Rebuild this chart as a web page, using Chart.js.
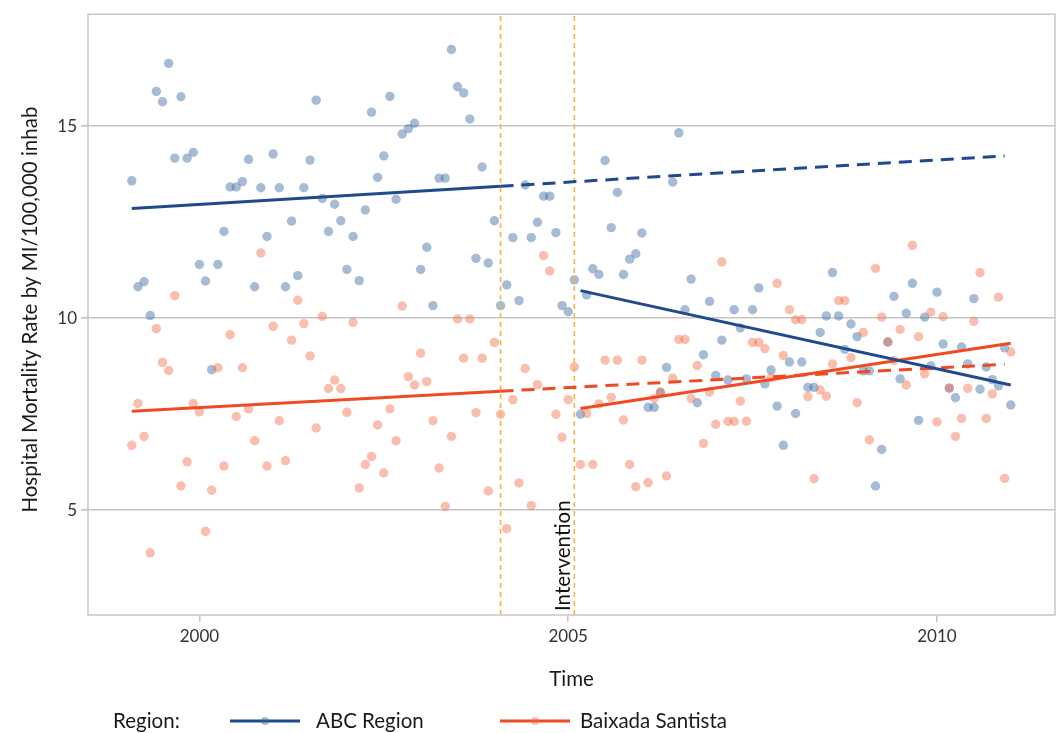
<!DOCTYPE html>
<html><head><meta charset="utf-8">
<script src="https://cdn.jsdelivr.net/npm/chart.js@4/dist/chart.umd.min.js"></script>
<style>html,body{margin:0;padding:0;background:#fff}#wrap{width:1063px;height:733px}</style>
</head><body><div id="wrap"><canvas id="c" width="1063" height="733"></canvas></div>
<script>
// ---- data ----
const months = [
 '1999-02','1999-03','1999-04','1999-05','1999-06','1999-07','1999-08','1999-09','1999-10','1999-11','1999-12',
 '2000-01','2000-02','2000-03','2000-04','2000-05','2000-06','2000-07','2000-08','2000-09','2000-10','2000-11','2000-12',
 '2001-01','2001-02','2001-03','2001-04','2001-05','2001-06','2001-07','2001-08','2001-09','2001-10','2001-11','2001-12',
 '2002-01','2002-02','2002-03','2002-04','2002-05','2002-06','2002-07','2002-08','2002-09','2002-10','2002-11','2002-12',
 '2003-01','2003-02','2003-03','2003-04','2003-05','2003-06','2003-07','2003-08','2003-09','2003-10','2003-11','2003-12',
 '2004-01','2004-02','2004-03','2004-04','2004-05','2004-06','2004-07','2004-08','2004-09','2004-10','2004-11','2004-12',
 '2005-01','2005-02','2005-03','2005-04','2005-05','2005-06','2005-07','2005-08','2005-09','2005-10','2005-11','2005-12',
 '2006-01','2006-02','2006-03','2006-04','2006-05','2006-06','2006-07','2006-08','2006-09','2006-10','2006-11','2006-12',
 '2007-01','2007-02','2007-03','2007-04','2007-05','2007-06','2007-07','2007-08','2007-09','2007-10','2007-11','2007-12',
 '2008-01','2008-02','2008-03','2008-04','2008-05','2008-06','2008-07','2008-08','2008-09','2008-10','2008-11','2008-12',
 '2009-01','2009-02','2009-03','2009-04','2009-05','2009-06','2009-07','2009-08','2009-09','2009-10','2009-11','2009-12',
 '2010-01','2010-02','2010-03','2010-04','2010-05','2010-06','2010-07','2010-08','2010-09','2010-10','2010-11','2010-12',
 '2011-01'
];
const abcRate = [
 13.58,10.82,10.95,10.07,15.91,15.64,16.64,14.17,15.77,14.17,14.32,
 11.40,10.97,8.66,11.40,12.26,13.42,13.42,13.56,14.14,10.82,13.40,12.13,
 14.28,13.40,10.82,12.53,11.11,13.40,14.12,15.68,13.12,12.26,12.97,12.54,
 11.27,12.13,10.98,12.82,15.37,13.67,14.23,15.78,13.10,14.80,14.94,15.08,
 11.27,11.85,10.33,13.65,13.65,17.00,16.03,15.87,15.19,11.56,13.94,11.44,
 12.54,10.33,10.87,12.10,10.46,13.47,12.10,12.50,13.18,13.18,12.23,10.33,
 10.17,11.00,7.50,10.61,11.29,11.14,14.11,12.36,13.28,11.14,11.54,11.68,
 12.22,7.68,7.68,8.06,8.72,13.55,14.83,10.22,11.02,7.80,9.05,10.44,
 8.51,9.43,8.39,10.22,9.75,8.42,10.22,10.79,8.29,8.65,7.71,6.69,
 8.86,7.52,8.86,8.20,8.20,9.63,10.06,11.19,10.06,9.19,9.85,9.52,
 8.63,8.63,5.63,6.58,9.38,10.57,8.42,10.13,10.91,7.34,10.03,8.76,
 10.68,9.33,8.18,7.93,9.25,8.81,10.51,8.15,8.73,8.40,8.24,9.23,
 7.74
];
const baixadaRate = [
 6.69,7.78,6.92,3.89,9.73,8.85,8.64,10.59,5.63,6.26,7.78,
 7.56,4.45,5.52,8.71,6.15,9.57,7.44,8.71,7.64,6.81,11.70,6.15,
 9.79,7.33,6.29,9.43,10.47,9.86,9.02,7.14,10.05,8.17,8.39,8.17,
 7.55,9.89,5.58,6.19,6.40,7.22,5.97,7.64,6.81,10.32,8.48,8.26,
 9.09,8.35,7.33,6.10,5.10,6.92,9.98,8.96,9.98,7.54,8.96,5.50,
 9.37,7.50,4.52,7.88,5.71,8.69,5.12,8.27,11.63,11.23,7.50,6.90,
 7.88,8.73,6.19,7.52,6.19,7.77,8.91,7.94,8.91,7.35,6.19,5.61,
 8.91,5.72,7.91,8.08,5.89,8.44,9.45,9.45,7.91,8.77,6.74,8.08,
 7.24,11.47,7.31,7.31,7.84,7.32,9.37,9.37,9.21,8.45,10.91,9.03,
 10.22,9.96,9.96,7.96,5.82,8.13,7.97,8.81,10.46,10.46,8.97,7.80,
 9.63,6.83,11.30,10.03,9.38,8.90,9.71,8.26,11.90,9.52,8.55,10.16,
 7.30,10.04,8.18,6.92,7.39,8.17,9.92,11.19,7.39,8.03,10.55,5.83,
 9.12
];
// fitted segments [month, value]
const abcPreFit = [['1999-02',12.86],['2004-02',13.44]];
const abcCounterfactual = [['2004-02',13.44],['2010-12',14.23]];
const abcPostFit = [['2005-03',10.72],['2011-01',8.26]];
const baixadaPreFit = [['1999-02',7.58],['2004-02',8.10]];
const baixadaCounterfactual = [['2004-02',8.10],['2010-12',8.80]];
const baixadaPostFit = [['2005-03',7.65],['2011-01',9.35]];
const interventionMonths = ['2004-02','2005-02'];
const interventionLabel = 'Intervention';
const xTicks = [2000, 2005, 2010];
const yTicks = [5, 10, 15];
const seriesNames = ['ABC Region', 'Baixada Santista'];

// ---- helpers ----
function toYear(s){ const p = s.split('-').map(Number); return p[0] + (p[1]-1)/12; }
const Y_MIN = 2.27, Y_MAX = 17.92;
const X_MIN = 1998.49, X_MAX = 2011.6;
const FONT = 'Lato';
const TITLE_SIZE = 20.5;
const ABC_LINE = '#1f4b8c', ABC_PT = 'rgba(58,105,160,0.45)';
const BS_LINE = '#f04a22', BS_PT = 'rgba(242,110,75,0.45)';
const VLINE = '#f6b340';

function seg(arr){ return arr.map(d => ({x: toYear(d[0]), y: d[1]})); }
function lineDs(arr, color, dash){
  return {type:'scatter', data: seg(arr), showLine:true, borderColor:color, borderWidth:3,
    borderDash: dash || [], pointRadius:0, pointHoverRadius:0, order:1, borderCapStyle:'butt', fill:false};
}
const datasets = [
  {label: seriesNames[0], data: months.map((m,i)=>({x:toYear(m), y:abcRate[i]})),
   backgroundColor: ABC_PT, borderWidth:0, pointRadius:4.7, order:4},
  {label: seriesNames[1], data: months.map((m,i)=>({x:toYear(m), y:baixadaRate[i]})),
   backgroundColor: BS_PT, borderWidth:0, pointRadius:4.7, order:3},
];
interventionMonths.forEach(m => {
  datasets.push({type:'scatter', data:[{x:toYear(m), y:Y_MIN},{x:toYear(m), y:Y_MAX}], showLine:true,
    borderColor:VLINE, borderWidth:1.6, borderDash:[5,4], pointRadius:0, order:2});
});
datasets.push(lineDs(abcPreFit, ABC_LINE));
datasets.push(lineDs(abcCounterfactual, ABC_LINE, [13,8]));
datasets.push(lineDs(abcPostFit, ABC_LINE));
datasets.push(lineDs(baixadaPreFit, BS_LINE));
datasets.push(lineDs(baixadaCounterfactual, BS_LINE, [13,8]));
datasets.push(lineDs(baixadaPostFit, BS_LINE));

const decor = {
  id:'decor',
  afterDatasetsDraw(chart){
    const {ctx, chartArea:a, scales} = chart;
    ctx.save();
    // panel border
    ctx.strokeStyle = '#c8c8c8'; ctx.lineWidth = 1.5;
    ctx.strokeRect(a.left, a.top, a.right - a.left, a.bottom - a.top);
    // intervention label
    const xi = scales.x.getPixelForValue(toYear(interventionMonths[1]));
    ctx.fillStyle = '#111';
    ctx.font = `${TITLE_SIZE}px ${FONT}`;
    ctx.translate(xi - 4, a.bottom - 4);
    ctx.rotate(-Math.PI/2);
    ctx.textAlign = 'left'; ctx.textBaseline = 'alphabetic';
    ctx.fillText(interventionLabel, 0, 0);
    ctx.restore();
  },
  afterDraw(chart){
    const {ctx, chartArea:a} = chart;
    ctx.save();
    ctx.fillStyle = '#1a1a1a';
    ctx.font = `${TITLE_SIZE}px ${FONT}`;
    ctx.textAlign = 'center'; ctx.textBaseline = 'middle';
    ctx.fillText('Time', (a.left + a.right)/2, 679);
    ctx.save();
    ctx.translate(30, (a.top + a.bottom)/2 - 5);
    ctx.rotate(-Math.PI/2);
    ctx.fillText('Hospital Mortality Rate by MI/100,000 inhab', 0, 0);
    ctx.restore();
    // legend
    const ly = 721;
    ctx.textAlign = 'left';
    ctx.fillText('Region:', 113, ly);
    const items = [
      {x0:230, line:ABC_LINE, pt:ABC_PT, text:seriesNames[0], tx:316},
      {x0:500, line:BS_LINE, pt:BS_PT, text:seriesNames[1], tx:580},
    ];
    items.forEach(it => {
      ctx.strokeStyle = it.line; ctx.lineWidth = 3;
      ctx.beginPath(); ctx.moveTo(it.x0, ly); ctx.lineTo(it.x0 + 70, ly); ctx.stroke();
      ctx.fillStyle = it.pt;
      ctx.beginPath(); ctx.arc(it.x0 + 35, ly, 4, 0, Math.PI*2); ctx.fill();
      ctx.fillStyle = '#1a1a1a';
      ctx.fillText(it.text, it.tx, ly);
    });
    ctx.restore();
  }
};

new Chart(document.getElementById('c'), {
  type:'scatter',
  data:{datasets},
  options:{
    responsive:false, animation:false, devicePixelRatio:1,
    layout:{padding:{top:14, right:8, left:0, bottom:0}},
    plugins:{legend:{display:false}, tooltip:{enabled:false}, title:{display:false}},
    scales:{
      x:{type:'linear', min:X_MIN, max:X_MAX,
        afterBuildTicks(s){ s.ticks = xTicks.map(v=>({value:v})); },
        afterFit(s){ s.height = 118; },
        grid:{drawOnChartArea:false, drawTicks:true, tickLength:7, color:'#c6c6c6', lineWidth:1.5},
        border:{display:false},
        ticks:{font:{family:FONT, size:17}, color:'#333', padding:4, maxRotation:0,
          callback:v=>String(v)}
      },
      y:{type:'linear', min:Y_MIN, max:Y_MAX,
        afterBuildTicks(s){ s.ticks = yTicks.map(v=>({value:v})); },
        afterFit(s){ s.width = 88; },
        grid:{drawOnChartArea:true, drawTicks:true, tickLength:7, color:'#c6c6c6', lineWidth:1.6},
        border:{display:false},
        ticks:{font:{family:FONT, size:17}, color:'#333', padding:4, callback:v=>String(v)}
      }
    }
  },
  plugins:[decor]
});
</script></body></html>
